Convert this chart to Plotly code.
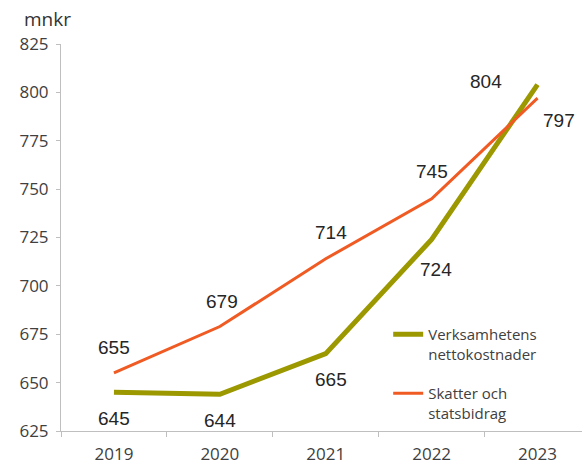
import plotly.graph_objects as go

years = ["2019", "2020", "2021", "2022", "2023"]
verksamhet = [645, 644, 665, 724, 804]
skatter = [655, 679, 714, 745, 797]
y_ticks = [625, 650, 675, 700, 725, 750, 775, 800, 825]

olive = "#9b9800"
orange = "#f05a23"

fig = go.Figure()
fig.add_trace(go.Scatter(x=years, y=verksamhet, mode="lines", name="Verksamhetens<br>nettokostnader",
                         legendgroup="a", line=dict(color=olive, width=5)))
fig.add_trace(go.Scatter(x=years, y=skatter, mode="lines", name="Skatter och<br>statsbidrag",
                         legendgroup="b", line=dict(color=orange, width=3)))

# label offsets (px) for each series
v_off = [(0, -26), (0, -26), (5, -26), (4, -30), (-52, 3)]
s_off = [(0, 25), (2, 25), (5, 26), (0, 27), (21, -22)]
lab_font = dict(family="Liberation Sans, Arial", size=19, color="#262626")
for i, yr in enumerate(years):
    fig.add_annotation(x=i, y=verksamhet[i], text=str(verksamhet[i]), showarrow=False,
                       xshift=v_off[i][0], yshift=v_off[i][1], font=lab_font)
    fig.add_annotation(x=i, y=skatter[i], text=str(skatter[i]), showarrow=False,
                       xshift=s_off[i][0], yshift=s_off[i][1], font=lab_font)

fig.add_annotation(x=0, xref="paper", xanchor="left", xshift=-39, y=1, yref="paper", yanchor="bottom",
                   yshift=10, text="mnkr", showarrow=False,
                   font=dict(family="Open Sans", size=19, color="#333333"))

fig.update_layout(
    width=582, height=466,
    margin=dict(l=61, r=0, t=44, b=35),
    paper_bgcolor="white", plot_bgcolor="white",
    font=dict(family="Open Sans", color="#404040"),
    legend=dict(x=0.628, y=0.292, xanchor="left", yanchor="top", valign="top",
                font=dict(family="Open Sans", size=15, color="#404040"),
                bgcolor="rgba(0,0,0,0)", tracegroupgap=17, itemwidth=30),
    xaxis=dict(type="category", range=[-0.5, 4.42], showline=True, linecolor="#bfbfbf", linewidth=1,
               ticks="outside", tickson="boundaries", ticklen=5, tickcolor="#bfbfbf",
               showgrid=False, zeroline=False, ticklabelstandoff=8, automargin=False,
               tickfont=dict(family="Open Sans", size=17, color="#404040")),
    yaxis=dict(range=[625, 825], tickvals=y_ticks, showline=True, linecolor="#bfbfbf", linewidth=1,
               ticks="outside", ticklen=4, tickcolor="#bfbfbf", showgrid=False, zeroline=False,
               ticklabelstandoff=4, automargin=False,
               tickfont=dict(family="Open Sans", size=17, color="#404040")),
)

fig.write_html("out.html", config={"displayModeBar": False},
               post_script="document.body.style.margin='0px';")
